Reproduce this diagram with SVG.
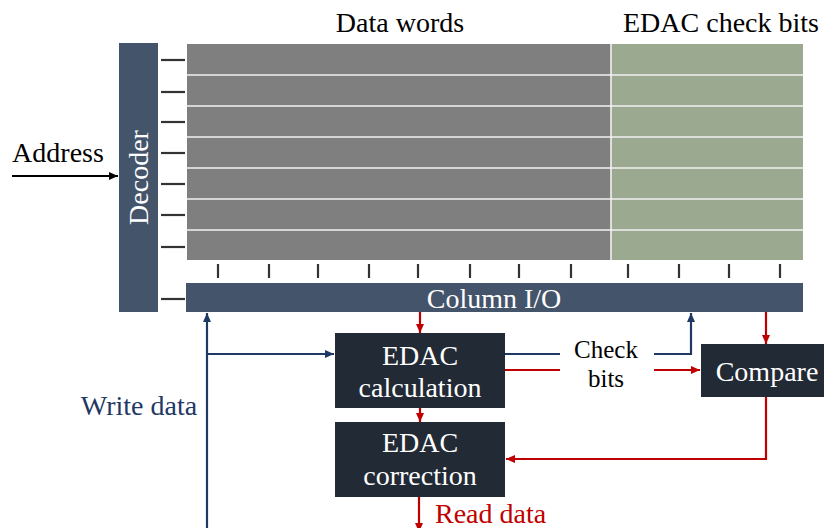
<svg xmlns="http://www.w3.org/2000/svg" width="824" height="528" viewBox="0 0 824 528">
<style>
.t{font-family:"Liberation Serif","Times New Roman",serif;font-size:28px}
.w{fill:#ffffff}
.k{fill:#000000}
.tick{stroke:#333333;stroke-width:2.2}
.sep{stroke:#f2f2f2;stroke-width:1.6}
.navy{stroke:#1f3864;stroke-width:2.2;fill:none}
.red{stroke:#c00000;stroke-width:2.2;fill:none}
.blk{stroke:#000000;stroke-width:2.2;fill:none}
.box{fill:#222a35}
.slate{fill:#44546a}
</style>
<defs>
<marker id="ak" markerUnits="userSpaceOnUse" markerWidth="10" markerHeight="10" refX="9" refY="5" orient="auto"><path d="M0,1 L9,5 L0,9 Z" fill="#000000"/></marker>
<marker id="an" markerUnits="userSpaceOnUse" markerWidth="10" markerHeight="10" refX="9" refY="5" orient="auto"><path d="M0,1 L9,5 L0,9 Z" fill="#1f3864"/></marker>
<marker id="ar" markerUnits="userSpaceOnUse" markerWidth="10" markerHeight="10" refX="9" refY="5" orient="auto"><path d="M0,1 L9,5 L0,9 Z" fill="#c00000"/></marker>
</defs>
<rect width="824" height="528" fill="#ffffff"/>

<text class="t k" x="400" y="32" text-anchor="middle">Data words</text>
<text class="t k" x="721" y="32" text-anchor="middle">EDAC check bits</text>

<g id="array">
<rect x="187" y="44" width="424" height="216" fill="#7f7f7f"/>
<rect x="611" y="44" width="192" height="216" fill="#9ba990"/>
<line class="sep" x1="187" y1="75" x2="803" y2="75"/>
<line class="sep" x1="187" y1="106" x2="803" y2="106"/>
<line class="sep" x1="187" y1="137" x2="803" y2="137"/>
<line class="sep" x1="187" y1="168" x2="803" y2="168"/>
<line class="sep" x1="187" y1="199" x2="803" y2="199"/>
<line class="sep" x1="187" y1="230" x2="803" y2="230"/>
<line class="sep" x1="611" y1="44" x2="611" y2="260"/>
</g>

<g id="row-ticks">
<line class="tick" x1="161" y1="60" x2="185" y2="60"/>
<line class="tick" x1="161" y1="92" x2="185" y2="92"/>
<line class="tick" x1="161" y1="122" x2="185" y2="122"/>
<line class="tick" x1="161" y1="153" x2="185" y2="153"/>
<line class="tick" x1="161" y1="184" x2="185" y2="184"/>
<line class="tick" x1="161" y1="215" x2="185" y2="215"/>
<line class="tick" x1="161" y1="247" x2="185" y2="247"/>
<line class="tick" x1="161" y1="299" x2="185" y2="299"/>
</g>

<g id="col-ticks">
<line class="tick" x1="218" y1="264" x2="218" y2="278"/>
<line class="tick" x1="269" y1="264" x2="269" y2="278"/>
<line class="tick" x1="318" y1="264" x2="318" y2="278"/>
<line class="tick" x1="369" y1="264" x2="369" y2="278"/>
<line class="tick" x1="418" y1="264" x2="418" y2="278"/>
<line class="tick" x1="470" y1="264" x2="470" y2="278"/>
<line class="tick" x1="519" y1="264" x2="519" y2="278"/>
<line class="tick" x1="571" y1="264" x2="571" y2="278"/>
<line class="tick" x1="628" y1="264" x2="628" y2="278"/>
<line class="tick" x1="679" y1="264" x2="679" y2="278"/>
<line class="tick" x1="729" y1="264" x2="729" y2="278"/>
<line class="tick" x1="780" y1="264" x2="780" y2="278"/>
</g>

<g id="decoder">
<rect class="slate" x="119" y="43" width="39" height="269"/>
<text class="t w" transform="translate(148,177.5) rotate(-90)" text-anchor="middle">Decoder</text>
</g>

<g id="column-io">
<rect class="slate" x="186" y="283" width="617" height="29"/>
<text class="t w" x="494" y="308" text-anchor="middle">Column I/O</text>
</g>

<g id="edac-calculation">
<rect class="box" x="335" y="333" width="170" height="75"/>
<text class="t w" x="420" y="365" text-anchor="middle">EDAC</text>
<text class="t w" x="420" y="397" text-anchor="middle">calculation</text>
</g>

<g id="edac-correction">
<rect class="box" x="335" y="422" width="170" height="75"/>
<text class="t w" x="420" y="452" text-anchor="middle">EDAC</text>
<text class="t w" x="420" y="485" text-anchor="middle">correction</text>
</g>

<g id="compare">
<rect class="box" x="701" y="344" width="130" height="53"/>
<text class="t w" x="767" y="381" text-anchor="middle">Compare</text>
</g>

<g id="labels">
<text class="t k" x="58" y="162" text-anchor="middle">Address</text>
<text class="t" x="139" y="415" text-anchor="middle" fill="#1f3864">Write data</text>
<text class="t" x="435" y="523" fill="#c00000">Read data</text>
<text class="t k" x="606" y="358" text-anchor="middle" style="font-size:25px">Check</text>
<text class="t k" x="606" y="387" text-anchor="middle" style="font-size:25px">bits</text>
</g>

<g id="connectors">
<line class="blk" x1="12" y1="176" x2="118" y2="176" marker-end="url(#ak)"/>
<line class="navy" x1="207" y1="528" x2="207" y2="313" marker-end="url(#an)"/>
<line class="navy" x1="207" y1="354" x2="334" y2="354" marker-end="url(#an)"/>
<polyline class="navy" points="505,354 560,354"/>
<polyline class="navy" points="654,354 691,354 691,313" marker-end="url(#an)"/>
<line class="red" x1="505" y1="370" x2="560" y2="370"/>
<line class="red" x1="654" y1="370" x2="700" y2="370" marker-end="url(#ar)"/>
<line class="red" x1="420" y1="312" x2="420" y2="333" marker-end="url(#ar)"/>
<line class="red" x1="420" y1="408" x2="420" y2="422" marker-end="url(#ar)"/>
<line class="red" x1="419" y1="497" x2="419" y2="532" marker-end="url(#ar)"/>
<line class="red" x1="766" y1="312" x2="766" y2="344" marker-end="url(#ar)"/>
<polyline class="red" points="766,397 766,459 506,459" marker-end="url(#ar)"/>
</g>
</svg>
